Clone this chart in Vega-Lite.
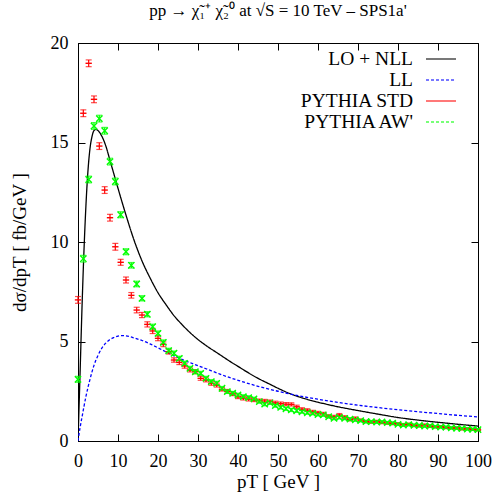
{
  "$schema": "https://vega.github.io/schema/vega-lite/v6.json",
  "width": 400,
  "height": 398,
  "autosize": {"type": "none"},
  "padding": {"left": 78, "top": 43, "right": 20, "bottom": 58},
  "background": "white",
  "title": {"text": "pp → χ̃₁⁺ χ̃₂⁰ at √S = 10 TeV – SPS1a'", "font": "Liberation Serif", "fontSize": 17, "fontWeight": "normal", "color": "black", "anchor": "middle", "offset": 14},
  "config": {
    "view": {"stroke": "black", "strokeWidth": 1},
    "axis": {"labelFont": "Liberation Serif", "labelFontSize": 18, "titleFont": "Liberation Serif", "titleFontSize": 19, "titleFontWeight": "normal", "labelColor": "black", "titleColor": "black", "domainColor": "black", "tickColor": "black", "grid": false, "tickSize": -7, "labelFlush": false, "labelOverlap": false},
    "legend": {"orient": "none", "legendX": 352, "legendY": 5, "padding": 0, "labelFont": "Liberation Serif", "labelFontSize": 19.5, "labelColor": "black", "symbolType": "M-1.5,0L1.5,0", "symbolSize": 400, "symbolStrokeWidth": 1.4, "labelAlign": "right", "labelOffset": -39, "rowPadding": -1, "labelLimit": 300}
  },
  "datasets": {
    "curves": [
      {"x": 0, "v": 0, "s": "LO + NLL"}, {"x": 0.5, "v": 3.3, "s": "LO + NLL"}, {"x": 1, "v": 6.7, "s": "LO + NLL"}, {"x": 1.5, "v": 9.6, "s": "LO + NLL"}, {"x": 2, "v": 11.9, "s": "LO + NLL"}, {"x": 2.5, "v": 13.6, "s": "LO + NLL"}, {"x": 3, "v": 14.7, "s": "LO + NLL"}, {"x": 3.5, "v": 15.3, "s": "LO + NLL"}, {"x": 4, "v": 15.6, "s": "LO + NLL"}, {"x": 4.5, "v": 15.66, "s": "LO + NLL"}, {"x": 5, "v": 15.6, "s": "LO + NLL"}, {"x": 6, "v": 15.3, "s": "LO + NLL"}, {"x": 7, "v": 14.8, "s": "LO + NLL"}, {"x": 8, "v": 14.1, "s": "LO + NLL"}, {"x": 9, "v": 13.4, "s": "LO + NLL"}, {"x": 10, "v": 12.7, "s": "LO + NLL"}, {"x": 12, "v": 11.35, "s": "LO + NLL"}, {"x": 14, "v": 10.1, "s": "LO + NLL"}, {"x": 16, "v": 9.05, "s": "LO + NLL"}, {"x": 18, "v": 8.2, "s": "LO + NLL"}, {"x": 20, "v": 7.45, "s": "LO + NLL"}, {"x": 22, "v": 6.85, "s": "LO + NLL"}, {"x": 24, "v": 6.3, "s": "LO + NLL"}, {"x": 26, "v": 5.85, "s": "LO + NLL"}, {"x": 28, "v": 5.45, "s": "LO + NLL"}, {"x": 30, "v": 5.1, "s": "LO + NLL"}, {"x": 32, "v": 4.8, "s": "LO + NLL"}, {"x": 35, "v": 4.4, "s": "LO + NLL"}, {"x": 38, "v": 4.0, "s": "LO + NLL"}, {"x": 40, "v": 3.75, "s": "LO + NLL"}, {"x": 42, "v": 3.5, "s": "LO + NLL"}, {"x": 45, "v": 3.15, "s": "LO + NLL"}, {"x": 48, "v": 2.85, "s": "LO + NLL"}, {"x": 50, "v": 2.65, "s": "LO + NLL"}, {"x": 53, "v": 2.38, "s": "LO + NLL"}, {"x": 56, "v": 2.17, "s": "LO + NLL"}, {"x": 60, "v": 1.95, "s": "LO + NLL"}, {"x": 65, "v": 1.72, "s": "LO + NLL"}, {"x": 70, "v": 1.53, "s": "LO + NLL"}, {"x": 75, "v": 1.35, "s": "LO + NLL"}, {"x": 80, "v": 1.18, "s": "LO + NLL"}, {"x": 85, "v": 1.05, "s": "LO + NLL"}, {"x": 90, "v": 0.94, "s": "LO + NLL"}, {"x": 95, "v": 0.84, "s": "LO + NLL"}, {"x": 100, "v": 0.75, "s": "LO + NLL"},
      {"x": 0, "v": 0, "s": "LL"}, {"x": 0.5, "v": 0.65, "s": "LL"}, {"x": 1, "v": 1.2, "s": "LL"}, {"x": 2, "v": 2.25, "s": "LL"}, {"x": 3, "v": 3.1, "s": "LL"}, {"x": 4, "v": 3.8, "s": "LL"}, {"x": 5, "v": 4.3, "s": "LL"}, {"x": 6, "v": 4.68, "s": "LL"}, {"x": 7, "v": 4.93, "s": "LL"}, {"x": 8, "v": 5.1, "s": "LL"}, {"x": 9, "v": 5.2, "s": "LL"}, {"x": 10, "v": 5.27, "s": "LL"}, {"x": 11, "v": 5.3, "s": "LL"}, {"x": 12, "v": 5.28, "s": "LL"}, {"x": 13, "v": 5.24, "s": "LL"}, {"x": 14, "v": 5.18, "s": "LL"}, {"x": 16, "v": 5.05, "s": "LL"}, {"x": 18, "v": 4.88, "s": "LL"}, {"x": 20, "v": 4.68, "s": "LL"}, {"x": 22, "v": 4.48, "s": "LL"}, {"x": 24, "v": 4.28, "s": "LL"}, {"x": 26, "v": 4.1, "s": "LL"}, {"x": 28, "v": 3.94, "s": "LL"}, {"x": 30, "v": 3.78, "s": "LL"}, {"x": 32, "v": 3.63, "s": "LL"}, {"x": 35, "v": 3.4, "s": "LL"}, {"x": 38, "v": 3.18, "s": "LL"}, {"x": 40, "v": 3.05, "s": "LL"}, {"x": 45, "v": 2.75, "s": "LL"}, {"x": 50, "v": 2.5, "s": "LL"}, {"x": 55, "v": 2.28, "s": "LL"}, {"x": 60, "v": 2.1, "s": "LL"}, {"x": 65, "v": 1.94, "s": "LL"}, {"x": 70, "v": 1.8, "s": "LL"}, {"x": 75, "v": 1.68, "s": "LL"}, {"x": 80, "v": 1.57, "s": "LL"}, {"x": 85, "v": 1.47, "s": "LL"}, {"x": 90, "v": 1.38, "s": "LL"}, {"x": 95, "v": 1.29, "s": "LL"}, {"x": 100, "v": 1.21, "s": "LL"}
    ],
    "pts": [
      {"x": 0, "v": 7.09, "e": 0.17, "s": "PYTHIA STD"}, {"x": 1.33, "v": 16.47, "e": 0.17, "s": "PYTHIA STD"}, {"x": 2.67, "v": 18.98, "e": 0.17, "s": "PYTHIA STD"}, {"x": 4, "v": 17.17, "e": 0.17, "s": "PYTHIA STD"}, {"x": 5.33, "v": 14.82, "e": 0.17, "s": "PYTHIA STD"}, {"x": 6.67, "v": 12.61, "e": 0.17, "s": "PYTHIA STD"}, {"x": 8, "v": 11.22, "e": 0.17, "s": "PYTHIA STD"}, {"x": 9.33, "v": 9.76, "e": 0.17, "s": "PYTHIA STD"}, {"x": 10.67, "v": 8.98, "e": 0.15, "s": "PYTHIA STD"}, {"x": 12, "v": 8.09, "e": 0.15, "s": "PYTHIA STD"}, {"x": 13.33, "v": 7.32, "e": 0.14, "s": "PYTHIA STD"}, {"x": 14.67, "v": 6.58, "e": 0.14, "s": "PYTHIA STD"}, {"x": 16, "v": 6.33, "e": 0.13, "s": "PYTHIA STD"}, {"x": 17.33, "v": 5.86, "e": 0.13, "s": "PYTHIA STD"}, {"x": 18.67, "v": 5.53, "e": 0.13, "s": "PYTHIA STD"}, {"x": 20, "v": 5.16, "e": 0.12, "s": "PYTHIA STD"}, {"x": 21.33, "v": 4.86, "e": 0.12, "s": "PYTHIA STD"}, {"x": 22.67, "v": 4.49, "e": 0.12, "s": "PYTHIA STD"}, {"x": 24, "v": 4.07, "e": 0.11, "s": "PYTHIA STD"}, {"x": 25.33, "v": 3.95, "e": 0.11, "s": "PYTHIA STD"}, {"x": 26.67, "v": 3.77, "e": 0.11, "s": "PYTHIA STD"}, {"x": 28, "v": 3.57, "e": 0.1, "s": "PYTHIA STD"}, {"x": 29.33, "v": 3.48, "e": 0.1, "s": "PYTHIA STD"}, {"x": 30.67, "v": 3.15, "e": 0.1, "s": "PYTHIA STD"}, {"x": 32, "v": 3.07, "e": 0.1, "s": "PYTHIA STD"}, {"x": 33.33, "v": 2.9, "e": 0.1, "s": "PYTHIA STD"}, {"x": 34.67, "v": 2.81, "e": 0.1, "s": "PYTHIA STD"}, {"x": 36, "v": 2.6, "e": 0.09, "s": "PYTHIA STD"}, {"x": 37.33, "v": 2.5, "e": 0.09, "s": "PYTHIA STD"}, {"x": 38.67, "v": 2.37, "e": 0.09, "s": "PYTHIA STD"}, {"x": 40, "v": 2.22, "e": 0.09, "s": "PYTHIA STD"}, {"x": 41.33, "v": 2.15, "e": 0.09, "s": "PYTHIA STD"}, {"x": 42.67, "v": 2.1, "e": 0.09, "s": "PYTHIA STD"}, {"x": 44, "v": 2.06, "e": 0.08, "s": "PYTHIA STD"}, {"x": 45.33, "v": 2.03, "e": 0.08, "s": "PYTHIA STD"}, {"x": 46.67, "v": 2.01, "e": 0.08, "s": "PYTHIA STD"}, {"x": 48, "v": 1.98, "e": 0.08, "s": "PYTHIA STD"}, {"x": 49.33, "v": 1.92, "e": 0.08, "s": "PYTHIA STD"}, {"x": 50.67, "v": 1.88, "e": 0.08, "s": "PYTHIA STD"}, {"x": 52, "v": 1.85, "e": 0.08, "s": "PYTHIA STD"}, {"x": 53.33, "v": 1.84, "e": 0.08, "s": "PYTHIA STD"}, {"x": 54.67, "v": 1.72, "e": 0.08, "s": "PYTHIA STD"}, {"x": 56, "v": 1.6, "e": 0.07, "s": "PYTHIA STD"}, {"x": 57.33, "v": 1.55, "e": 0.07, "s": "PYTHIA STD"}, {"x": 58.67, "v": 1.47, "e": 0.07, "s": "PYTHIA STD"}, {"x": 60, "v": 1.42, "e": 0.07, "s": "PYTHIA STD"}, {"x": 61.33, "v": 1.37, "e": 0.07, "s": "PYTHIA STD"}, {"x": 62.67, "v": 1.25, "e": 0.07, "s": "PYTHIA STD"}, {"x": 64, "v": 1.22, "e": 0.07, "s": "PYTHIA STD"}, {"x": 65.33, "v": 1.31, "e": 0.07, "s": "PYTHIA STD"}, {"x": 66.67, "v": 1.2, "e": 0.07, "s": "PYTHIA STD"}, {"x": 68, "v": 1.08, "e": 0.07, "s": "PYTHIA STD"}, {"x": 69.33, "v": 1.14, "e": 0.07, "s": "PYTHIA STD"}, {"x": 70.67, "v": 1.05, "e": 0.06, "s": "PYTHIA STD"}, {"x": 72, "v": 0.98, "e": 0.06, "s": "PYTHIA STD"}, {"x": 73.33, "v": 0.95, "e": 0.06, "s": "PYTHIA STD"}, {"x": 74.67, "v": 0.98, "e": 0.06, "s": "PYTHIA STD"}, {"x": 76, "v": 0.93, "e": 0.06, "s": "PYTHIA STD"}, {"x": 77.33, "v": 0.9, "e": 0.06, "s": "PYTHIA STD"}, {"x": 78.67, "v": 0.88, "e": 0.06, "s": "PYTHIA STD"}, {"x": 80, "v": 0.86, "e": 0.06, "s": "PYTHIA STD"}, {"x": 81.33, "v": 0.82, "e": 0.06, "s": "PYTHIA STD"}, {"x": 82.67, "v": 0.84, "e": 0.06, "s": "PYTHIA STD"}, {"x": 84, "v": 0.78, "e": 0.06, "s": "PYTHIA STD"}, {"x": 85.33, "v": 0.76, "e": 0.06, "s": "PYTHIA STD"}, {"x": 86.67, "v": 0.8, "e": 0.06, "s": "PYTHIA STD"}, {"x": 88, "v": 0.74, "e": 0.06, "s": "PYTHIA STD"}, {"x": 89.33, "v": 0.7, "e": 0.05, "s": "PYTHIA STD"}, {"x": 90.67, "v": 0.72, "e": 0.05, "s": "PYTHIA STD"}, {"x": 92, "v": 0.67, "e": 0.05, "s": "PYTHIA STD"}, {"x": 93.33, "v": 0.65, "e": 0.05, "s": "PYTHIA STD"}, {"x": 94.67, "v": 0.66, "e": 0.05, "s": "PYTHIA STD"}, {"x": 96, "v": 0.6, "e": 0.05, "s": "PYTHIA STD"}, {"x": 97.33, "v": 0.62, "e": 0.05, "s": "PYTHIA STD"}, {"x": 98.67, "v": 0.58, "e": 0.05, "s": "PYTHIA STD"}, {"x": 100, "v": 0.56, "e": 0.05, "s": "PYTHIA STD"},
      {"x": 0, "v": 3.1, "e": 0.15, "s": "PYTHIA AW'"}, {"x": 1.33, "v": 9.16, "e": 0.17, "s": "PYTHIA AW'"}, {"x": 2.67, "v": 13.14, "e": 0.17, "s": "PYTHIA AW'"}, {"x": 4, "v": 15.83, "e": 0.17, "s": "PYTHIA AW'"}, {"x": 5.33, "v": 16.2, "e": 0.17, "s": "PYTHIA AW'"}, {"x": 6.67, "v": 15.59, "e": 0.17, "s": "PYTHIA AW'"}, {"x": 8, "v": 14.04, "e": 0.17, "s": "PYTHIA AW'"}, {"x": 9.33, "v": 13.04, "e": 0.17, "s": "PYTHIA AW'"}, {"x": 10.67, "v": 11.37, "e": 0.15, "s": "PYTHIA AW'"}, {"x": 12, "v": 9.51, "e": 0.15, "s": "PYTHIA AW'"}, {"x": 13.33, "v": 8.83, "e": 0.14, "s": "PYTHIA AW'"}, {"x": 14.67, "v": 7.89, "e": 0.14, "s": "PYTHIA AW'"}, {"x": 16, "v": 7.17, "e": 0.13, "s": "PYTHIA AW'"}, {"x": 17.33, "v": 6.37, "e": 0.13, "s": "PYTHIA AW'"}, {"x": 18.67, "v": 5.74, "e": 0.13, "s": "PYTHIA AW'"}, {"x": 20, "v": 5.41, "e": 0.12, "s": "PYTHIA AW'"}, {"x": 21.33, "v": 4.96, "e": 0.12, "s": "PYTHIA AW'"}, {"x": 22.67, "v": 4.54, "e": 0.12, "s": "PYTHIA AW'"}, {"x": 24, "v": 4.41, "e": 0.11, "s": "PYTHIA AW'"}, {"x": 25.33, "v": 4.15, "e": 0.11, "s": "PYTHIA AW'"}, {"x": 26.67, "v": 3.9, "e": 0.11, "s": "PYTHIA AW'"}, {"x": 28, "v": 3.65, "e": 0.1, "s": "PYTHIA AW'"}, {"x": 29.33, "v": 3.48, "e": 0.1, "s": "PYTHIA AW'"}, {"x": 30.67, "v": 3.4, "e": 0.1, "s": "PYTHIA AW'"}, {"x": 32, "v": 3.15, "e": 0.1, "s": "PYTHIA AW'"}, {"x": 33.33, "v": 2.98, "e": 0.1, "s": "PYTHIA AW'"}, {"x": 34.67, "v": 2.9, "e": 0.1, "s": "PYTHIA AW'"}, {"x": 36, "v": 2.65, "e": 0.09, "s": "PYTHIA AW'"}, {"x": 37.33, "v": 2.48, "e": 0.09, "s": "PYTHIA AW'"}, {"x": 38.67, "v": 2.4, "e": 0.09, "s": "PYTHIA AW'"}, {"x": 40, "v": 2.31, "e": 0.09, "s": "PYTHIA AW'"}, {"x": 41.33, "v": 2.23, "e": 0.09, "s": "PYTHIA AW'"}, {"x": 42.67, "v": 2.18, "e": 0.09, "s": "PYTHIA AW'"}, {"x": 44, "v": 2.12, "e": 0.08, "s": "PYTHIA AW'"}, {"x": 45.33, "v": 1.98, "e": 0.08, "s": "PYTHIA AW'"}, {"x": 46.67, "v": 1.85, "e": 0.08, "s": "PYTHIA AW'"}, {"x": 48, "v": 1.92, "e": 0.08, "s": "PYTHIA AW'"}, {"x": 49.33, "v": 1.78, "e": 0.08, "s": "PYTHIA AW'"}, {"x": 50.67, "v": 1.69, "e": 0.08, "s": "PYTHIA AW'"}, {"x": 52, "v": 1.62, "e": 0.08, "s": "PYTHIA AW'"}, {"x": 53.33, "v": 1.56, "e": 0.08, "s": "PYTHIA AW'"}, {"x": 54.67, "v": 1.52, "e": 0.08, "s": "PYTHIA AW'"}, {"x": 56, "v": 1.47, "e": 0.07, "s": "PYTHIA AW'"}, {"x": 57.33, "v": 1.42, "e": 0.07, "s": "PYTHIA AW'"}, {"x": 58.67, "v": 1.39, "e": 0.07, "s": "PYTHIA AW'"}, {"x": 60, "v": 1.33, "e": 0.07, "s": "PYTHIA AW'"}, {"x": 61.33, "v": 1.31, "e": 0.07, "s": "PYTHIA AW'"}, {"x": 62.67, "v": 1.22, "e": 0.07, "s": "PYTHIA AW'"}, {"x": 64, "v": 1.14, "e": 0.07, "s": "PYTHIA AW'"}, {"x": 65.33, "v": 1.18, "e": 0.07, "s": "PYTHIA AW'"}, {"x": 66.67, "v": 1.14, "e": 0.07, "s": "PYTHIA AW'"}, {"x": 68, "v": 1.1, "e": 0.07, "s": "PYTHIA AW'"}, {"x": 69.33, "v": 1.06, "e": 0.07, "s": "PYTHIA AW'"}, {"x": 70.67, "v": 1.02, "e": 0.06, "s": "PYTHIA AW'"}, {"x": 72, "v": 0.97, "e": 0.06, "s": "PYTHIA AW'"}, {"x": 73.33, "v": 0.97, "e": 0.06, "s": "PYTHIA AW'"}, {"x": 74.67, "v": 0.95, "e": 0.06, "s": "PYTHIA AW'"}, {"x": 76, "v": 0.96, "e": 0.06, "s": "PYTHIA AW'"}, {"x": 77.33, "v": 0.92, "e": 0.06, "s": "PYTHIA AW'"}, {"x": 78.67, "v": 0.9, "e": 0.06, "s": "PYTHIA AW'"}, {"x": 80, "v": 0.84, "e": 0.06, "s": "PYTHIA AW'"}, {"x": 81.33, "v": 0.8, "e": 0.06, "s": "PYTHIA AW'"}, {"x": 82.67, "v": 0.82, "e": 0.06, "s": "PYTHIA AW'"}, {"x": 84, "v": 0.79, "e": 0.06, "s": "PYTHIA AW'"}, {"x": 85.33, "v": 0.78, "e": 0.06, "s": "PYTHIA AW'"}, {"x": 86.67, "v": 0.75, "e": 0.06, "s": "PYTHIA AW'"}, {"x": 88, "v": 0.76, "e": 0.06, "s": "PYTHIA AW'"}, {"x": 89.33, "v": 0.72, "e": 0.05, "s": "PYTHIA AW'"}, {"x": 90.67, "v": 0.7, "e": 0.05, "s": "PYTHIA AW'"}, {"x": 92, "v": 0.7, "e": 0.05, "s": "PYTHIA AW'"}, {"x": 93.33, "v": 0.66, "e": 0.05, "s": "PYTHIA AW'"}, {"x": 94.67, "v": 0.64, "e": 0.05, "s": "PYTHIA AW'"}, {"x": 96, "v": 0.63, "e": 0.05, "s": "PYTHIA AW'"}, {"x": 97.33, "v": 0.6, "e": 0.05, "s": "PYTHIA AW'"}, {"x": 98.67, "v": 0.59, "e": 0.05, "s": "PYTHIA AW'"}, {"x": 100, "v": 0.57, "e": 0.05, "s": "PYTHIA AW'"}
    ]
  },
  "resolve": {"axis": {"x": "independent", "y": "independent"}},
  "layer": [
    {
      "data": {"name": "curves"},
      "mark": {"type": "line", "strokeWidth": 1.3, "interpolate": "monotone", "clip": true},
      "encoding": {
        "x": {"field": "x", "type": "quantitative", "scale": {"domain": [0, 100], "nice": false}, "axis": {"orient": "bottom", "values": [0, 10, 20, 30, 40, 50, 60, 70, 80, 90, 100], "title": "pT [ GeV ]", "labelPadding": 18, "titlePadding": 2}},
        "y": {"field": "v", "type": "quantitative", "scale": {"domain": [0, 20], "nice": false}, "axis": {"orient": "left", "values": [0, 5, 10, 15, 20], "title": "dσ/dpT [ fb/GeV ]", "labelPadding": 17, "titlePadding": 21}},
        "color": {"field": "s", "type": "nominal", "scale": {"domain": ["LO + NLL", "LL", "PYTHIA STD", "PYTHIA AW'"], "range": ["#000000", "#0000ff", "#ff0000", "#00ff00"]}, "legend": {"title": null}},
        "strokeDash": {"field": "s", "type": "nominal", "scale": {"domain": ["LO + NLL", "LL", "PYTHIA STD", "PYTHIA AW'"], "range": [[1, 0], [3, 2], [1, 0], [3, 2]]}, "legend": {"title": null}},
        "order": {"field": "x", "type": "quantitative"}
      }
    },
    {
      "data": {"name": "pts"},
      "mark": {"type": "errorbar", "ticks": {"size": 6}, "thickness": 1.2},
      "encoding": {
        "x": {"field": "x", "type": "quantitative", "axis": null},
        "y": {"field": "v", "type": "quantitative", "axis": null},
        "yError": {"field": "e"},
        "color": {"field": "s", "type": "nominal"}
      }
    },
    {
      "data": {"name": "pts"},
      "mark": {"type": "point", "filled": false, "strokeWidth": 1.4, "opacity": 1},
      "encoding": {
        "x": {"field": "x", "type": "quantitative", "axis": {"orient": "top", "labels": false, "title": null, "domain": false, "values": [0, 10, 20, 30, 40, 50, 60, 70, 80, 90, 100]}},
        "y": {"field": "v", "type": "quantitative", "axis": {"orient": "right", "labels": false, "title": null, "domain": false, "values": [0, 5, 10, 15, 20]}},
        "color": {"field": "s", "type": "nominal"},
        "shape": {"field": "s", "type": "nominal", "scale": {"domain": ["PYTHIA STD", "PYTHIA AW'"], "range": ["stroke", "M-1,-1L1,1M-1,1L1,-1"]}, "legend": null},
        "size": {"value": 40}
      }
    }
  ]
}
